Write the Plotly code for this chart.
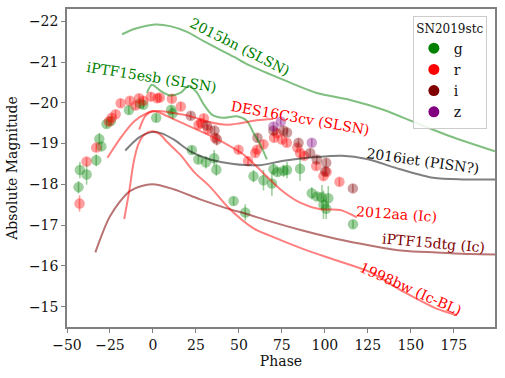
import plotly.graph_objects as go

# ---------------- SN2019stc photometry (phase, abs mag, error) ----------------
g_phase = [-43.3, -42.5, -38.6, -33.0, -31.2, -30.0, -27.0, -24.5, -14.0, -7.5, -5.6, 1.9, 10.6, 11.5,
           22.6, 26.4, 30.8, 35.6, 36.9, 46.9, 53.7, 58.5, 64.3, 69.2, 70.1, 72.5, 76.0, 78.0, 85.6,
           92.4, 95.5, 98.3, 99.2, 100.8, 102.0, 116.4]
g_mag = [-17.93, -18.35, -18.24, -18.59, -19.11, -18.93, -19.48, -19.55, -19.82, -19.98, -19.95, -19.63, -19.83, -19.74,
         -18.84, -18.61, -18.54, -18.64, -18.36, -17.59, -17.31, -18.20, -18.10, -18.02, -18.37, -18.30, -18.33, -18.35, -18.38,
         -17.78, -17.70, -17.68, -17.50, -17.40, -17.66, -17.02]
g_err = [0.15, 0.20, 0.25, 0.15, 0.15, 0.10, 0.10, 0.10, 0.10, 0.10, 0.10, 0.10, 0.10, 0.15,
         0.10, 0.10, 0.15, 0.20, 0.15, 0.10, 0.20, 0.15, 0.25, 0.30, 0.15, 0.10, 0.15, 0.20, 0.30,
         0.15, 0.10, 0.30, 0.35, 0.25, 0.30, 0.10]

r_phase = [-42.7, -38.6, -33.0, -25.6, -24.0, -21.7, -18.8, -13.4, -10.1, -8.1, -5.6, -1.2, 2.5, 4.0, 11.0,
           16.2, 26.5, 28.0, 29.6, 32.0, 36.2, 49.8, 55.3, 59.5, 60.5, 64.3, 70.5, 72.0, 75.0, 77.9,
           84.0, 85.6, 88.0, 95.0, 99.2, 101.0, 108.5]
r_mag = [-17.53, -18.56, -18.90, -19.54, -19.63, -19.72, -19.99, -20.05, -19.93, -20.11, -20.05, -20.15, -20.11, -20.13, -20.10,
         -19.91, -19.46, -19.50, -19.62, -19.35, -19.14, -18.85, -18.57, -18.77, -18.85, -18.98, -19.14, -19.25, -19.10, -19.02,
         -18.90, -18.77, -18.70, -18.45, -18.20, -18.30, -18.06]
r_err = [0.20, 0.10, 0.10, 0.10, 0.10, 0.10, 0.10, 0.10, 0.10, 0.10, 0.10, 0.10, 0.10, 0.10, 0.10,
         0.10, 0.10, 0.10, 0.10, 0.10, 0.10, 0.10, 0.10, 0.10, 0.10, 0.10, 0.10, 0.10, 0.10, 0.10,
         0.10, 0.10, 0.10, 0.10, 0.10, 0.10, 0.10]

i_phase = [22.0, 31.4, 35.8, 37.2, 60.8, 70.1, 75.9, 78.0, 84.7, 91.5, 95.3, 100.8, 100.2, 116.3]
i_mag = [-19.68, -19.44, -19.32, -19.10, -19.14, -19.32, -19.32, -19.27, -19.02, -18.77, -18.61, -18.53, -18.32, -17.90]
i_err = [0.10, 0.10, 0.10, 0.15, 0.10, 0.10, 0.10, 0.10, 0.10, 0.10, 0.10, 0.10, 0.10, 0.10]

z_phase = [70.1, 74.4, 92.4]
z_mag = [-19.42, -19.54, -19.02]
z_err = [0.10, 0.10, 0.10]

# ---------------- comparison light curves ----------------
sn2015bn_phase = [-18, -10, 1.3, 10, 19.8, 30, 46.9, 56.6, 76, 95.3, 114.7, 134, 153.4, 172.8, 199]
sn2015bn_mag = [-21.68, -21.82, -21.92, -21.88, -21.74, -21.5, -21.13, -20.91, -20.56, -20.24, -20.07, -19.83, -19.5, -19.18, -18.81]

ptf15esb_phase = [-3.5, -0.6, 4.2, 10, 15.9, 21, 25.6, 29.4, 34.3, 41, 48.8, 54.6, 58.5, 62.4, 66.3]
ptf15esb_mag = [-20.24, -20.44, -20.30, -20.18, -20.24, -20.42, -20.25, -19.97, -19.71, -19.63, -19.67, -19.56, -19.26, -18.98, -18.61]

des16c3cv_phase = [-26.5, -18.8, -11, -3.3, 0.6, 4, 12, 21.7, 31.4, 43, 50.8, 60.5, 70]
des16c3cv_mag = [-18.65, -19.14, -19.54, -19.75, -19.79, -19.8, -19.75, -19.67, -19.54, -19.46, -19.5, -19.57, -19.6]

sn2016iet_phase = [-16.1, -8, -0.6, 5, 12, 21.7, 33.3, 46.9, 62.4, 76, 95.3, 110, 124.4, 143.8, 163, 180, 199]
sn2016iet_mag = [-18.83, -19.15, -19.28, -19.25, -19.1, -18.81, -18.61, -18.5, -18.47, -18.58, -18.67, -18.7, -18.62, -18.37, -18.16, -18.12, -18.12]

sn2012aa_phase = [-8, -4.5, 0, 4.3, 12, 23.6, 33, 43, 52.7, 62.4, 74, 85.6, 97.3, 109, 118.6]
sn2012aa_mag = [-19.34, -19.67, -19.8, -19.75, -19.6, -19.38, -19.2, -18.98, -18.73, -18.35, -17.88, -17.55, -17.39, -17.37, -17.19]

ptf15dtg_phase = [-33.5, -24.8, -13.2, -0.6, 12, 27.5, 43, 54.6, 68.2, 87.6, 107, 126.3, 145.7, 165.1, 184.5, 199]
ptf15dtg_mag = [-16.33, -17.23, -17.84, -18.0, -17.88, -17.63, -17.41, -17.27, -17.09, -16.86, -16.66, -16.5, -16.37, -16.33, -16.29, -16.28]

sn1998bw_phase = [-16.7, -13.6, -11.3, -8.5, -5, -0.4, 4.3, 8, 16, 24, 33, 45, 58.5, 68, 87.6, 107, 126, 146, 165, 177]
sn1998bw_mag = [-17.15, -17.88, -18.53, -18.98, -19.22, -19.3, -19.22, -19.05, -18.72, -18.3, -17.95, -17.38, -16.92, -16.74, -16.41, -16.13, -15.85, -15.36, -14.95, -14.79]

# label texts
labels = ["2015bn (SLSN)", "iPTF15esb (SLSN)", "DES16C3cv (SLSN)", "2016iet (PISN?)",
          "2012aa (Ic)", "iPTF15dtg (Ic)", "1998bw (Ic-BL)"]
label_x = [50.8, -1.0, 85.6, 157.0, 141.5, 163.5, 150.2]
label_y = [-21.37, -20.63, -19.63, -18.56, -17.27, -16.56, -15.44]
label_angle = [27, 9, 10, 8, 4, 5, 24]
label_color = ["#008000", "#008000", "#ff0000", "#111111", "#ff0000", "#800000", "#ff0000"]

band_names = ["g", "r", "i", "z"]
band_colors = [(0, 128, 0), (255, 0, 0), (128, 0, 0), (128, 0, 128)]

FONT = "DejaVu Serif"

fig = go.Figure()


def rgba(c, a):
    return f"rgba({c[0]},{c[1]},{c[2]},{a})"


bands = [(g_phase, g_mag, g_err), (r_phase, r_mag, r_err), (i_phase, i_mag, i_err), (z_phase, z_mag, z_err)]
for (ph, mg, er), name, col in zip(bands, band_names, band_colors):
    fig.add_trace(go.Scatter(
        x=ph, y=mg, mode="markers", showlegend=False, hoverinfo="skip",
        marker=dict(size=10.5, color=rgba(col, 0.38), line=dict(width=0)),
        error_y=dict(type="data", array=er, color=rgba(col, 0.38), thickness=1.6, width=0),
    ))

curves = [
    (sn2015bn_phase, sn2015bn_mag, "rgba(0,128,0,0.5)"),
    (ptf15esb_phase, ptf15esb_mag, "rgba(0,128,0,0.5)"),
    (des16c3cv_phase, des16c3cv_mag, "rgba(255,0,0,0.5)"),
    (sn2016iet_phase, sn2016iet_mag, "rgba(0,0,0,0.5)"),
    (sn2012aa_phase, sn2012aa_mag, "rgba(255,0,0,0.5)"),
    (ptf15dtg_phase, ptf15dtg_mag, "rgba(128,0,0,0.55)"),
    (sn1998bw_phase, sn1998bw_mag, "rgba(255,0,0,0.5)"),
]
for ph, mg, col in curves:
    fig.add_trace(go.Scatter(x=ph, y=mg, mode="lines", showlegend=False, hoverinfo="skip",
                             line=dict(color=col, width=2, shape="spline", smoothing=0.8)))

# legend-only entries (full opacity markers)
for name, col in zip(band_names, band_colors):
    fig.add_trace(go.Scatter(x=[None], y=[None], mode="markers", name=name,
                             marker=dict(size=11, color=rgba(col, 1))))

for t, x, y, a, c in zip(labels, label_x, label_y, label_angle, label_color):
    fig.add_annotation(x=x, y=y, text=t, textangle=a, showarrow=False,
                       font=dict(family=FONT, size=14, color=c),
                       xanchor="center", yanchor="middle")

axis_common = dict(showline=True, mirror=True, linecolor="#808080", linewidth=1.5,
                   ticks="outside", ticklen=4, tickcolor="#808080", tickwidth=1.2,
                   showgrid=False, zeroline=False, automargin=False,
                   tickfont=dict(family=FONT, size=14, color="#111"))

fig.update_xaxes(range=[-50, 199], tickvals=[-50, -25, 0, 25, 50, 75, 100, 125, 150, 175],
                 title=dict(text="Phase", font=dict(family=FONT, size=14, color="#111"), standoff=4),
                 **axis_common)
fig.update_yaxes(range=[-14.5, -22.3], tickvals=[-22, -21, -20, -19, -18, -17, -16, -15],
                 title=dict(text="Absolute Magnitude", font=dict(family=FONT, size=14, color="#111"), standoff=8),
                 **axis_common)

fig.update_layout(
    width=505, height=378,
    margin=dict(l=67, r=10, t=9, b=51, autoexpand=False),
    plot_bgcolor="white", paper_bgcolor="white",
    font=dict(family=FONT, size=14, color="#111"),
    legend=dict(
        title=dict(text="SN2019stc", font=dict(family=FONT, size=12), side="top center"),
        x=0.981, xanchor="right", y=0.978, yanchor="top",
        bgcolor="rgba(255,255,255,0.85)", bordercolor="#cccccc", borderwidth=1,
        font=dict(family=FONT, size=14), tracegroupgap=0, itemwidth=30,
    ),
)

fig.write_html("out.html", config={"displayModeBar": False},
               post_script="document.body.style.margin='0';document.body.style.overflow='hidden';")
